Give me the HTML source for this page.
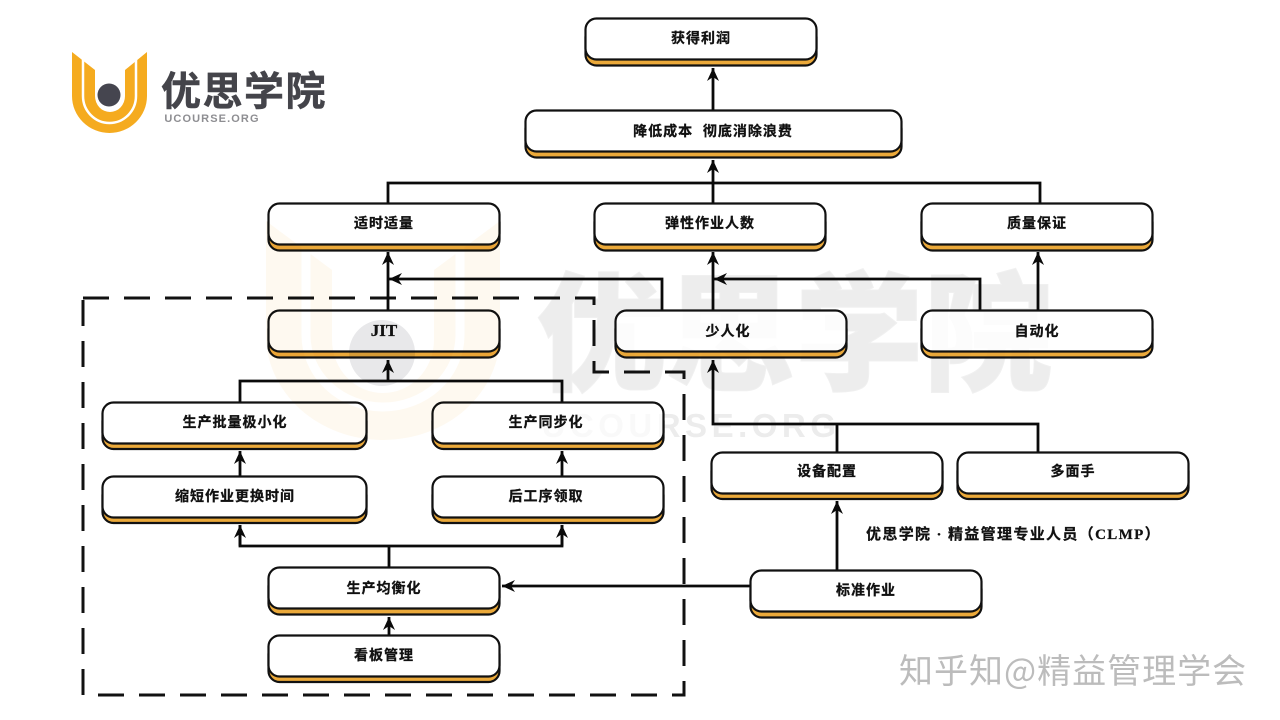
<!DOCTYPE html>
<html><head><meta charset="utf-8"><style>
html,body{margin:0;padding:0;background:#fff}
svg{display:block}
.t{font-family:"Liberation Sans","Noto Sans CJK SC",sans-serif;font-weight:700;font-size:14px;letter-spacing:1px;text-anchor:middle;fill:#111;stroke:#111;stroke-width:.3}
.l{fill:none;stroke:#0a0a0a;stroke-width:2.8}
.s{fill:#eba93a;stroke:#111;stroke-width:2.2}
.w{fill:#fff;stroke:#111;stroke-width:2.2}
.m{mix-blend-mode:multiply}
</style></head><body>
<svg xmlns="http://www.w3.org/2000/svg" width="1280" height="720" viewBox="0 0 1280 720">
<defs><marker id="a" viewBox="-14 -7 15 14" refX="0" refY="0" markerWidth="15" markerHeight="14" markerUnits="userSpaceOnUse" orient="auto"><path d="M0,0 L-13,-6 L-9,0 L-13,6 Z" fill="#0a0a0a"/></marker></defs>
<rect width="1280" height="720" fill="#fff"/>

<!-- background watermark text -->
<text x="795" y="380" text-anchor="middle" style="font-family:'Noto Sans CJK SC',sans-serif;font-weight:900;font-size:128px;letter-spacing:1px" fill="#f0f0f0" stroke="#f0f0f0" stroke-width="2">优思学院</text>
<text x="691" y="437" text-anchor="middle" style="font-family:'Liberation Sans',sans-serif;font-weight:700;font-size:33px;letter-spacing:4.5px" fill="#f2f2f2">UCOURSE.ORG</text>

<!-- logo -->
<path d="M72,52 L95,70 V96 A15 16 0 0 0 125,96 V70 L147,52 V96 A37.5 37 0 0 1 72,96 Z" fill="#f5ab1f"/>
<path d="M83,45 V96 A26.5 27 0 0 0 136,96 V45" fill="none" stroke="#fff" stroke-width="2.5"/>
<circle cx="109" cy="95" r="11.5" fill="#45454f"/>
<text x="244" y="105" text-anchor="middle" style="font-family:'Noto Sans CJK SC',sans-serif;font-weight:700;font-size:40px;letter-spacing:1.5px" fill="#44444a" stroke="#44444a" stroke-width=".5">优思学院</text>
<text x="212" y="122" text-anchor="middle" style="font-family:'Liberation Sans',sans-serif;font-weight:700;font-size:11px;letter-spacing:1.1px" fill="#8e8e92">UCOURSE.ORG</text>

<!-- dashed region -->
<path d="M83,298 H594 V372 H684 V695 H83 Z" fill="none" stroke="#111" stroke-width="3" stroke-dasharray="26 15"/>

<!-- connectors -->
<path class="l" d="M713,110 V68" marker-end="url(#a)"/>
<path class="l" d="M713,203 V160" marker-end="url(#a)"/>
<path class="l" d="M388,203 V183 H1040 V203"/>
<path class="l" d="M388,310 V252" marker-end="url(#a)"/>
<path class="l" d="M662,310 V279 H389" marker-end="url(#a)"/>
<path class="l" d="M713,310 V252" marker-end="url(#a)"/>
<path class="l" d="M980,310 V279 H714" marker-end="url(#a)"/>
<path class="l" d="M1038,310 V252" marker-end="url(#a)"/>
<path class="l" d="M388,381 V360" marker-end="url(#a)"/>
<path class="l" d="M240,402 V381 H562 V402"/>
<path class="l" d="M240,476 V451" marker-end="url(#a)"/>
<path class="l" d="M562,476 V451" marker-end="url(#a)"/>
<path class="l" d="M389,567 V546"/>
<path class="l" d="M240,525 V546 H562 V525"/>
<path class="l" d="M240,546 V525" marker-end="url(#a)"/>
<path class="l" d="M562,546 V525" marker-end="url(#a)"/>
<path class="l" d="M389,635 V617" marker-end="url(#a)"/>
<path class="l" d="M750,586 H502" marker-end="url(#a)"/>
<path class="l" d="M837,570 V501" marker-end="url(#a)"/>
<path class="l" d="M837,452 V424 M1038,452 V424 H713 V360" marker-end="url(#a)"/>

<!-- boxes -->
<rect class="s" x="585.5" y="26" width="231" height="39.5" rx="11"/><rect class="w" x="585.5" y="18.5" width="231" height="41" rx="11"/>
<rect class="s" x="525.5" y="118" width="376" height="39.5" rx="11"/><rect class="w" x="525.5" y="110.5" width="376" height="41" rx="11"/>
<rect class="s" x="268.5" y="211" width="231" height="39.5" rx="11"/><rect class="w" x="268.5" y="203.5" width="231" height="41" rx="11"/>
<rect class="s" x="594.5" y="211" width="231" height="39.5" rx="11"/><rect class="w" x="594.5" y="203.5" width="231" height="41" rx="11"/>
<rect class="s" x="921.5" y="211" width="231" height="39.5" rx="11"/><rect class="w" x="921.5" y="203.5" width="231" height="41" rx="11"/>
<rect class="s" x="268.5" y="318" width="231" height="39.5" rx="11"/><rect class="w" x="268.5" y="310.5" width="231" height="41" rx="11"/>
<rect class="s" x="615.5" y="318" width="231" height="39.5" rx="11"/><rect class="w" x="615.5" y="310.5" width="231" height="41" rx="11"/>
<rect class="s" x="921.5" y="318" width="231" height="39.5" rx="11"/><rect class="w" x="921.5" y="310.5" width="231" height="41" rx="11"/>
<rect class="s" x="102.5" y="410" width="264" height="39" rx="11"/><rect class="w" x="102.5" y="402.5" width="264" height="41" rx="11"/>
<rect class="s" x="432.5" y="410" width="231" height="39" rx="11"/><rect class="w" x="432.5" y="402.5" width="231" height="41" rx="11"/>
<rect class="s" x="102.5" y="484" width="264" height="39" rx="11"/><rect class="w" x="102.5" y="476.5" width="264" height="41" rx="11"/>
<rect class="s" x="432.5" y="484" width="231" height="39" rx="11"/><rect class="w" x="432.5" y="476.5" width="231" height="41" rx="11"/>
<rect class="s" x="711.5" y="460" width="231" height="39" rx="11"/><rect class="w" x="711.5" y="452.5" width="231" height="41" rx="11"/>
<rect class="s" x="957.5" y="460" width="231" height="39" rx="11"/><rect class="w" x="957.5" y="452.5" width="231" height="41" rx="11"/>
<rect class="s" x="268.5" y="575" width="231" height="39.5" rx="11"/><rect class="w" x="268.5" y="567.5" width="231" height="41" rx="11"/>
<rect class="s" x="268.5" y="643" width="231" height="39" rx="11"/><rect class="w" x="268.5" y="635.5" width="231" height="41" rx="11"/>
<rect class="s" x="750.5" y="578" width="231" height="39.5" rx="11"/><rect class="w" x="750.5" y="570.5" width="231" height="41" rx="11"/>

<!-- faint watermark overlay, multiplied over boxes and lines -->
<g class="m" opacity=".07">
<path d="M266,221 L332,270 V340 A50,52 0 0 0 434,340 V270 L500,221 V335 A117,105 0 0 1 266,335 Z" fill="#f0a01e"/>
<path d="M306,210 V335 A77,72 0 0 0 460,335 V210" fill="none" stroke="#fff" stroke-width="9"/>
</g>
<circle class="m" cx="382" cy="353" r="33" fill="#e8e8ea"/>
<g class="m">
<text x="795" y="380" text-anchor="middle" style="font-family:'Noto Sans CJK SC',sans-serif;font-weight:900;font-size:128px;letter-spacing:1px" fill="#fcfcfc">优思学院</text>
<text x="691" y="437" text-anchor="middle" style="font-family:'Liberation Sans',sans-serif;font-weight:700;font-size:33px;letter-spacing:4.5px" fill="#f9f9f9">UCOURSE.ORG</text>
</g>

<!-- labels -->
<text class="t" x="701" y="43">获得利润</text>
<text class="t" x="713" y="136" xml:space="preserve">降低成本  彻底消除浪费</text>
<text class="t" x="384" y="228">适时适量</text>
<text class="t" x="710" y="228">弹性作业人数</text>
<text class="t" x="1037" y="228">质量保证</text>
<text class="t" x="384" y="336" style="font-family:'Liberation Serif',serif;font-size:17px;letter-spacing:0">JIT</text>
<text class="t" x="728" y="336">少人化</text>
<text class="t" x="1037" y="336">自动化</text>
<text class="t" x="235" y="427">生产批量极小化</text>
<text class="t" x="546" y="427">生产同步化</text>
<text class="t" x="235" y="501">缩短作业更换时间</text>
<text class="t" x="546" y="501">后工序领取</text>
<text class="t" x="827" y="476">设备配置</text>
<text class="t" x="1073" y="476">多面手</text>
<text class="t" x="384" y="593">生产均衡化</text>
<text class="t" x="384" y="660">看板管理</text>
<text class="t" x="866" y="595">标准作业</text>
<text x="866" y="539" style="font-family:'Liberation Serif','Noto Sans CJK SC',sans-serif;font-weight:700;font-size:15px;letter-spacing:1.35px" fill="#111" stroke="#111" stroke-width=".25">优思学院 · 精益管理专业人员（CLMP）</text>

<!-- zhihu mark -->
<text x="900" y="684" style="font-family:'Noto Sans CJK SC',sans-serif;font-weight:400;font-size:34px;letter-spacing:1px" fill="#fff" stroke="#fff" stroke-width="1.5">知乎知@精益管理学会</text>
<text x="899" y="683" style="font-family:'Noto Sans CJK SC',sans-serif;font-weight:400;font-size:34px;letter-spacing:1px" fill="#bcbcbc">知乎知@精益管理学会</text>
</svg>
</body></html>
